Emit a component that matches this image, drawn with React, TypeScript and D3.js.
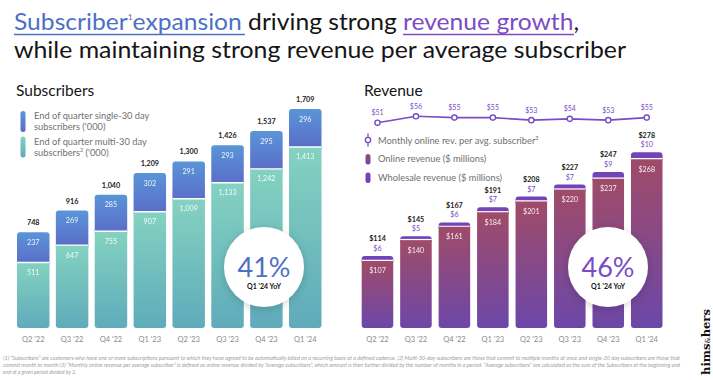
import React from "react";
import * as d3 from "d3";

const quarters = ["Q2 '22", "Q3 '22", "Q4 '22", "Q1 '23", "Q2 '23", "Q3 '23", "Q4 '23", "Q1 '24"];
const multiSubs = [511, 647, 755, 907, 1009, 1133, 1242, 1413];
const singleSubs = [237, 269, 285, 302, 291, 293, 295, 296];
const totalSubs = [748, 916, 1040, 1209, 1300, 1426, 1537, 1709];
const onlineRev = [107, 140, 161, 184, 201, 220, 237, 268];
const wholesaleRev = [6, 5, 6, 7, 7, 7, 9, 10];
const totalRev = [114, 145, 167, 191, 208, 227, 247, 278];
const arpu = [51, 56, 55, 55, 53, 54, 53, 55];

const FONT = "Lato, 'Noto Sans', sans-serif";
const BLUE = "#4d6fc6";
const PURPLE = "#7b4cc4";

const footnotes = [
  "(1) \u201cSubscribers\u201d are customers who have one or more subscriptions pursuant to which they have agreed to be automatically billed on a recurring basis at a defined cadence. (2) Multi-30-day subscribers are those that commit to multiple months at once and single-30 day subscribers are those that",
  "commit month to month (3) \u201cMonthly online revenue per average subscriber\u201d is defined as online revenue divided by \u201caverage subscribers\u201d, which amount is then further divided by the number of months in a period. \u201cAverage subscribers\u201d are calculated as the sum of the Subscribers at the beginning and",
  "end of a given period divided by 2.",
];

function topRounded(x: number, y: number, w: number, h: number, r: number) {
  return `M${x},${y + h}V${y + r}Q${x},${y} ${x + r},${y}H${x + w - r}Q${x + w},${y} ${x + w},${y + r}V${y + h}Z`;
}
function bottomRounded(x: number, y: number, w: number, h: number, r: number) {
  return `M${x},${y}H${x + w}V${y + h - r}Q${x + w},${y + h} ${x + w - r},${y + h}H${x + r}Q${x},${y + h} ${x},${y + h - r}Z`;
}

export default function App() {
  const W = 713, H = 380;
  const baseY = 328;

  const xL = d3.scaleBand<string>().domain(quarters).range([17, 321.5]).paddingInner(0.164).paddingOuter(0);
  const yL = d3.scaleLinear().domain([0, 1709]).range([baseY, 109]);

  const xR = d3.scaleBand<string>().domain(quarters).range([361.7, 662.5]).paddingInner(0.18).paddingOuter(0);
  const yR = d3.scaleLinear().domain([0, 278]).range([baseY, 152.3]);
  const yLine = d3.scaleLinear().domain([51, 56]).range([122.7, 116.3]);

  const linePts: [number, number][] = arpu.map((v, i) => [xR(quarters[i])! + xR.bandwidth() / 2, yLine(v)]);
  const lineGen = d3.line();

  const bwL = xL.bandwidth();
  const bwR = xR.bandwidth();

  return (
    <svg width={W} height={H} style={{ display: "block", position: "absolute", left: 0, top: 0 }} fontFamily={FONT}>
      <defs>
        <linearGradient id="gBlue" x1="0" y1="0" x2="0" y2="1">
          <stop offset="0" stopColor="#5a95d8" />
          <stop offset="1" stopColor="#5a6cc8" />
        </linearGradient>
        <linearGradient id="gTeal" x1="0" y1="0" x2="0" y2="1">
          <stop offset="0" stopColor="#84d2c0" />
          <stop offset="1" stopColor="#5fabbb" />
        </linearGradient>
        <linearGradient id="gOnline" x1="0" y1="0" x2="0" y2="1">
          <stop offset="0" stopColor="#a04b68" />
          <stop offset="1" stopColor="#6c47a8" />
        </linearGradient>
        <filter id="shadow" x="-30%" y="-30%" width="160%" height="160%">
          <feDropShadow dx="0" dy="2" stdDeviation="4" floodColor="#000" floodOpacity="0.18" />
        </filter>
      </defs>
      <rect width={W} height={H} fill="#ffffff" />

      {/* Title */}
      <g fontSize={23.5} fill="#151515">
        <text x={14} y={30} textLength={565} lengthAdjust="spacingAndGlyphs">
          <tspan fill={BLUE}>Subscriber</tspan>
          <tspan fill={BLUE} fontSize={8} dy={-10}>1</tspan>
          <tspan fill={BLUE} dy={10}>expansion</tspan>
          <tspan> driving strong </tspan>
          <tspan fill={PURPLE}>revenue growth</tspan>
          <tspan>,</tspan>
        </text>
        <text x={14} y={58.3} textLength={612} lengthAdjust="spacingAndGlyphs">while maintaining strong revenue per average subscriber</text>
        <line x1={14} x2={245} y1={34.5} y2={34.5} stroke={BLUE} strokeWidth={1.4} />
        <line x1={403} x2={574} y1={34.5} y2={34.5} stroke={PURPLE} strokeWidth={1.4} />
      </g>

      {/* Left panel */}
      <text x={16} y={96} fontSize={15.5} fill="#151515">Subscribers</text>
      <rect x={20.5} y={111} width={5} height={21} rx={2.5} fill="url(#gBlue)" />
      <rect x={20.5} y={136.5} width={5} height={21} rx={2.5} fill="url(#gTeal)" />
      <g fontSize={9.3} fill="#6f6f6f">
        <text x={34} y={118.5}>End of quarter single-30 day</text>
        <text x={34} y={129.5}>subscribers ('000)</text>
        <text x={34} y={144.5}>End of quarter multi-30 day</text>
        <text x={34} y={155.5}>subscribers<tspan fontSize={5.5} dy={-4}>2</tspan><tspan dy={4}>  ('000)</tspan></text>
      </g>

      {quarters.map((q, i) => {
        const x = xL(q)!;
        const yTop = yL(totalSubs[i]);
        const ySplit = yL(multiSubs[i]);
        return (
          <g key={"l" + q}>
            <path d={topRounded(x, yTop, bwL, ySplit - yTop + 2, 3)} fill="url(#gBlue)" />
            <path d={bottomRounded(x, ySplit, bwL, baseY - ySplit, 3)} fill="url(#gTeal)" />
            <line x1={x} x2={x + bwL} y1={ySplit} y2={ySplit} stroke="#fff" strokeWidth={1.4} />
            <text x={x + bwL / 2} y={yTop - 7} textAnchor="middle" fontSize={7.2} fontWeight={700} fill="#222">
              {d3.format(",")(totalSubs[i])}
            </text>
            <text x={x + bwL / 2} y={yTop + 12.5} textAnchor="middle" fontSize={7.2} fill="#fff" opacity={0.9}>
              {d3.format(",")(singleSubs[i])}
            </text>
            <text x={x + bwL / 2} y={ySplit + 12.5} textAnchor="middle" fontSize={7.2} fill="#fff" opacity={0.9}>
              {d3.format(",")(multiSubs[i])}
            </text>
            <text x={x + bwL / 2} y={341.5} textAnchor="middle" fontSize={7.5} fill="#8a8a8a">{q}</text>
          </g>
        );
      })}

      <circle cx={264} cy={267} r={40} fill="#fff" filter="url(#shadow)" />
      <text x={264} y={277} textAnchor="middle" fontSize={27} fill={BLUE}>41%</text>
      <text x={264} y={289} textAnchor="middle" fontSize={7} fontWeight={700} fill="#111">Q1 '24 YoY</text>

      {/* Right panel */}
      <text x={364} y={96} fontSize={15.5} fill="#151515">Revenue</text>
      <path d={lineGen(linePts)!} fill="none" stroke={PURPLE} strokeWidth={1.6} />
      {linePts.map((p, i) => (
        <g key={"p" + i}>
          <circle cx={p[0]} cy={p[1]} r={2.6} fill="#fff" stroke={PURPLE} strokeWidth={1.4} />
          <text x={p[0]} y={p[1] - 7.5} textAnchor="middle" fontSize={7} fill={PURPLE}>${arpu[i]}</text>
        </g>
      ))}

      <line x1={368} x2={368} y1={133.5} y2={146.5} stroke={PURPLE} strokeWidth={1.3} />
      <circle cx={368} cy={140} r={2.6} fill="#fff" stroke={PURPLE} strokeWidth={1.4} />
      <rect x={365.5} y={154} width={5} height={10.5} rx={2.5} fill="url(#gOnline)" />
      <rect x={365.5} y={172.5} width={5} height={10.5} rx={2.5} fill="#7344b8" />
      <g fontSize={9.3} fill="#6f6f6f">
        <text x={378} y={143.5}>Monthly online rev. per avg. subscriber<tspan fontSize={5.5} dy={-4}>3</tspan></text>
        <text x={378} y={162}>Online revenue ($ millions)</text>
        <text x={378} y={181}>Wholesale revenue ($ millions)</text>
      </g>

      {quarters.map((q, i) => {
        const x = xR(q)!;
        const yTop = yR(totalRev[i]);
        const ySplit = yR(onlineRev[i]);
        return (
          <g key={"r" + q}>
            <path d={topRounded(x, yTop, bwR, ySplit - yTop + 2, 3)} fill="#7344b8" />
            <path d={bottomRounded(x, ySplit, bwR, baseY - ySplit, 3)} fill="url(#gOnline)" />
            <line x1={x} x2={x + bwR} y1={ySplit} y2={ySplit} stroke="#fff" strokeWidth={1.2} />
            <text x={x + bwR / 2} y={yTop - 14.5} textAnchor="middle" fontSize={7.2} fontWeight={700} fill="#222">
              ${totalRev[i]}
            </text>
            <text x={x + bwR / 2} y={yTop - 5} textAnchor="middle" fontSize={7.2} fill={PURPLE}>
              ${wholesaleRev[i]}
            </text>
            <text x={x + bwR / 2} y={ySplit + 13} textAnchor="middle" fontSize={7.2} fill="#fff" opacity={0.9}>
              ${onlineRev[i]}
            </text>
            <text x={x + bwR / 2} y={341.5} textAnchor="middle" fontSize={7.5} fill="#8a8a8a">{q}</text>
          </g>
        );
      })}

      <circle cx={608} cy={267} r={40} fill="#fff" filter="url(#shadow)" />
      <text x={608} y={277} textAnchor="middle" fontSize={27} fill={PURPLE}>46%</text>
      <text x={608} y={289} textAnchor="middle" fontSize={7} fontWeight={700} fill="#111">Q1 '24 YoY</text>

      {/* Footnotes */}
      <g fontSize={5.2} fontStyle="italic" fill="#a0a0a0">
        <text x={3} y={359.5} textLength={677} lengthAdjust="spacingAndGlyphs">{footnotes[0]}</text>
        <text x={3} y={366.5} textLength={677} lengthAdjust="spacingAndGlyphs">{footnotes[1]}</text>
        <text x={3} y={374}>{footnotes[2]}</text>
      </g>

      {/* Logo */}
      <text transform="translate(710,342) rotate(-90)" textAnchor="middle" fontFamily="'DejaVu Serif', 'Liberation Serif', serif" fontSize={11.5} fontWeight={700} fill="#111">
        hims<tspan fontSize={7} fontWeight={400}>&amp;</tspan>hers
      </text>
    </svg>
  );
}
